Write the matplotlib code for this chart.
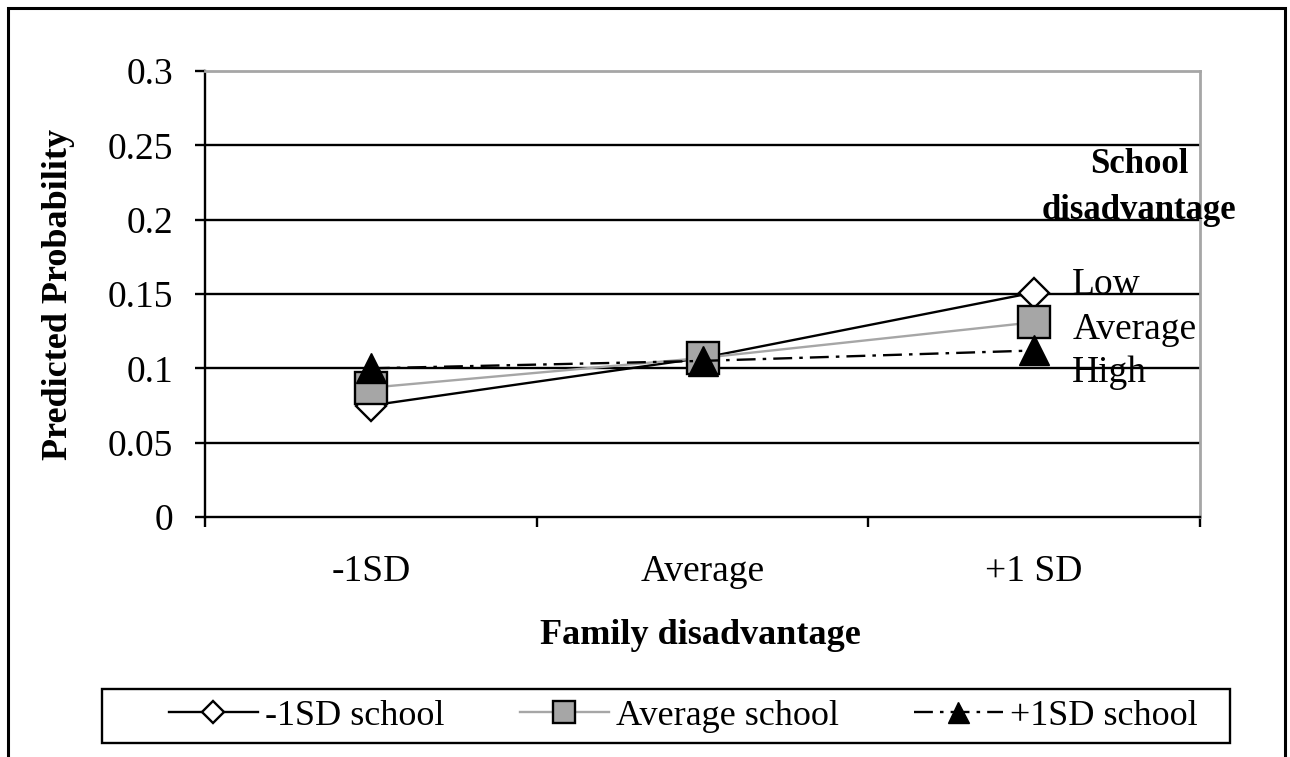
import numpy as np
import matplotlib.pyplot as plt
from matplotlib.patches import Rectangle

plt.rcParams['font.family'] = ['Liberation Serif', 'DejaVu Serif']

categories = ['-1SD', 'Average', '+1 SD']
low_school = [0.075, 0.107, 0.151]
avg_school = [0.087, 0.107, 0.131]
high_school = [0.100, 0.105, 0.112]
series_names = ['-1SD school', 'Average school', '+1SD school']
yticks = [0, 0.05, 0.1, 0.15, 0.2, 0.25, 0.3]
ytick_labels = ['0', '0.05', '0.1', '0.15', '0.2', '0.25', '0.3']

fig = plt.figure(figsize=(12.9, 7.57), dpi=100)
ax = fig.add_axes([205/1290, 1-517/757, 995/1290, 446/757])

x = np.arange(len(categories))

# grid lines
for v in yticks[1:-1]:
    ax.axhline(v, color='black', lw=1.7, zorder=1)

ax.plot(x, low_school, color='black', lw=1.7, marker='D', ms=15,
        mfc='white', mec='black', mew=1.7, label=series_names[0], zorder=3)
ax.plot(x, avg_school, color='#a6a6a6', lw=1.7, marker='s', ms=23,
        mfc='#a6a6a6', mec='black', mew=1.7, label=series_names[1], zorder=4)
ax.plot(x, high_school, color='black', lw=1.7, ls=(0, (8, 3, 1.5, 3)), marker='^', ms=21,
        mfc='black', mec='black', label=series_names[2], zorder=5)

ax.set_xlim(-0.5, 2.5)
ax.set_ylim(0, 0.3)
ax.set_yticks(yticks)
ax.set_yticklabels(ytick_labels, fontsize=27)
ax.set_xticks([-0.5, 0.5, 1.5, 2.5])
ax.set_xticklabels([])
ax.set_xticks(x, minor=True)
ax.set_xticklabels(categories, minor=True, fontsize=27)
ax.tick_params(axis='x', which='major', direction='out', length=7, width=1.7)
ax.tick_params(axis='x', which='minor', length=0, pad=27)
ax.tick_params(axis='y', direction='out', length=7, width=1.7, pad=16)

for s in ['top', 'right']:
    ax.spines[s].set_color('#a6a6a6')
    ax.spines[s].set_linewidth(2)
for s in ['left', 'bottom']:
    ax.spines[s].set_color('black')
    ax.spines[s].set_linewidth(1.7)

ax.set_ylabel('Predicted Probability', fontsize=26, fontweight='bold')
ax.yaxis.set_label_coords((75-205)/995, 0.498)
fig.text(700/1290, 1-635/757, 'Family disadvantage', fontsize=26, fontweight='bold',
         ha='center', va='center')

ax.text(2.115, 0.156, 'Low', fontsize=27, va='center', ha='left')
ax.text(2.115, 0.126, 'Average', fontsize=27, va='center', ha='left')
ax.text(2.115, 0.097, 'High', fontsize=27, va='center', ha='left')
ax.text(2.317, 0.237, 'School', fontsize=25, fontweight='bold', va='center', ha='center', clip_on=False)
ax.text(2.317, 0.2065, 'disadvantage', fontsize=25, fontweight='bold', va='center', ha='center', clip_on=False)

leg = fig.legend(loc='center left', bbox_to_anchor=(169/1290, 1-716/757),
                 ncol=3, fontsize=26, frameon=False, handlelength=2.46,
                 handletextpad=0.2, columnspacing=2.08, markerscale=0.72,
                 borderaxespad=0, borderpad=0)

fig.patches.append(Rectangle((102/1290, 1-743/757), 1128/1290, 54/757, transform=fig.transFigure,
                             fill=False, edgecolor='black', lw=1.7))
fig.patches.append(Rectangle((8/1290, -0.05), 1277/1290, 1.05-8/757, transform=fig.transFigure,
                             fill=False, edgecolor='black', lw=2.2, clip_on=False))

fig.savefig('out.png', dpi=100)
